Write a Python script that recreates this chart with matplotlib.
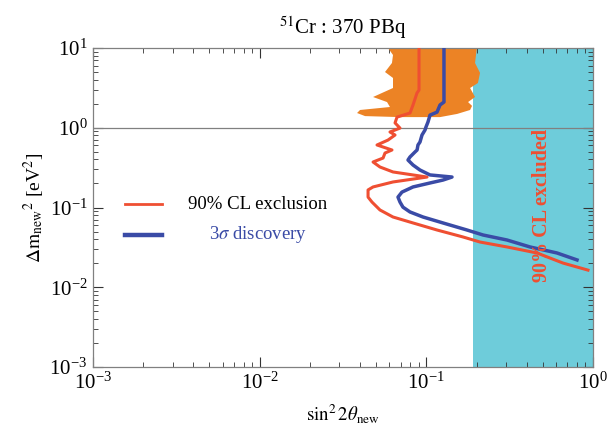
import numpy as np
import matplotlib
matplotlib.use("Agg")
import matplotlib.pyplot as plt
from matplotlib.ticker import LogLocator, NullFormatter

plt.rcParams['font.family'] = ['Liberation Serif', 'DejaVu Serif']
plt.rcParams['mathtext.fontset'] = 'stix'

# ---- data ----
# 90% CL exclusion contour (sin^2 2theta, dm^2)
red_x = [0.0904, 0.0904, 0.0879, 0.0832, 0.0798, 0.0667, 0.0649, 0.0695, 0.0605,
         0.0649, 0.0589, 0.0506, 0.0622, 0.0565, 0.0550, 0.0479, 0.0527, 0.0631,
         0.101, 0.0631, 0.0479, 0.0447, 0.0447, 0.0472, 0.0527, 0.0631, 0.0832,
         0.116, 0.166, 0.210, 0.305, 0.461, 0.661, 0.933]
red_y = [10.0, 2.97, 2.73, 1.93, 1.53, 1.36, 1.15, 0.99, 0.885,
         0.811, 0.701, 0.608, 0.526, 0.482, 0.417, 0.372, 0.322, 0.279,
         0.241, 0.209, 0.181, 0.166, 0.135, 0.117, 0.0931, 0.0760, 0.0640,
         0.0522, 0.0427, 0.0369, 0.0320, 0.0269, 0.0201, 0.0164]

# 3 sigma discovery contour
blue_x = [0.1276, 0.1276, 0.1208, 0.1159, 0.1052, 0.1023, 0.0995, 0.0982, 0.0942,
          0.0916, 0.0891, 0.0880, 0.0855, 0.0798, 0.0776, 0.0832, 0.0916, 0.1052,
          0.1426, 0.1259, 0.1052, 0.0832, 0.0714, 0.0676, 0.0695, 0.0724, 0.0798,
          0.0955, 0.1259, 0.1754, 0.219, 0.305, 0.419, 0.608, 0.802]
blue_y = [10.0, 2.10, 1.93, 1.57, 1.44, 1.18, 1.02, 0.937, 0.811,
          0.662, 0.608, 0.526, 0.497, 0.430, 0.394, 0.341, 0.295, 0.256,
          0.241, 0.221, 0.203, 0.181, 0.156, 0.135, 0.117, 0.101, 0.0879,
          0.0760, 0.0640, 0.0522, 0.0452, 0.0391, 0.0320, 0.0269, 0.0220]

# allowed region (orange) polygon
orange_x = [0.0589, 0.0631, 0.0622, 0.0565, 0.0631, 0.0631, 0.0479, 0.0581, 0.0605,
            0.0400, 0.0384, 0.0429, 0.0695, 0.1208, 0.153, 0.183, 0.188,
            0.178, 0.196, 0.183, 0.204, 0.210, 0.196, 0.201]
orange_y = [10.0, 8.17, 6.49, 5.00, 4.21, 3.15, 2.43, 2.10, 1.82,
            1.67, 1.53, 1.40, 1.36, 1.36, 1.49, 1.67, 1.88,
            2.10, 2.43, 3.15, 3.64, 4.87, 6.49, 10.0]

# excluded region (cyan)
excl_xmin = 0.19
excl_xmax = 1.0
ymin, ymax = 1e-3, 1e1
xmin, xmax = 1e-3, 1e0

c_red = '#EF4F32'
c_blue = '#3A4BA6'
c_orange = '#EC8325'
c_cyan = '#6ECCDA'

fig = plt.figure(figsize=(6.08, 4.24), dpi=100)
ax = fig.add_axes([93/608, 1-367/424, 500/608, 319/424])
ax.set_xscale('log')
ax.set_yscale('log')
ax.set_xlim(xmin, xmax)
ax.set_ylim(ymin, ymax)

ax.axvspan(excl_xmin, excl_xmax, color=c_cyan, lw=0, zorder=1)
ax.fill(orange_x, orange_y, color=c_orange, lw=0, zorder=2)
ax.axhline(1.0, color='#808080', lw=0.9, zorder=3)
ax.plot(red_x, red_y, color=c_red, lw=2.2, zorder=4, solid_joinstyle='round')
ax.plot(blue_x, blue_y, color=c_blue, lw=2.5, zorder=5, solid_joinstyle='round')

ax.text(0.494, 0.107, '90% CL excluded', rotation=90, color=c_red,
        fontsize=14.5, fontweight='bold', ha='center', va='center', zorder=6)

# legend (manual)
ax.plot([0.064, 0.138], [0.51, 0.51], transform=ax.transAxes, color=c_red, lw=2.0)
ax.plot([0.064, 0.138], [0.415, 0.415], transform=ax.transAxes, color=c_blue, lw=3.2)
ax.text(0.33, 0.51, '90% CL exclusion', transform=ax.transAxes, fontsize=13.5,
        color='black', ha='center', va='center')
ax.text(0.33, 0.415, r'3$\sigma$ discovery', transform=ax.transAxes, fontsize=13.5,
        color=c_blue, ha='center', va='center')

for s in ax.spines.values():
    s.set_color('#808080')
    s.set_linewidth(0.9)

ax.xaxis.set_major_locator(LogLocator(base=10, numticks=10))
ax.yaxis.set_major_locator(LogLocator(base=10, numticks=10))
ax.xaxis.set_minor_locator(LogLocator(base=10, subs=np.arange(2, 10), numticks=10))
ax.yaxis.set_minor_locator(LogLocator(base=10, subs=np.arange(2, 10), numticks=10))
ax.xaxis.set_minor_formatter(NullFormatter())
ax.yaxis.set_minor_formatter(NullFormatter())
ax.tick_params(which='both', direction='in', top=True, right=True, color='#333333')
ax.tick_params(which='major', length=7, width=0.8, labelsize=15, pad=4)
ax.tick_params(which='minor', length=3.5, width=0.6)

ax.set_xlabel(r'$\sin^2 2\theta_{\rm new}$', fontsize=13.5, labelpad=6)
ax.set_ylabel(r'$\Delta {\rm m}_{\rm new}{}^2$ [eV$^2$]', fontsize=14, labelpad=2)
ax.set_title(r'$^{51}$Cr : 370 PBq', fontsize=15, pad=10)

fig.savefig('out.png', dpi=100)
